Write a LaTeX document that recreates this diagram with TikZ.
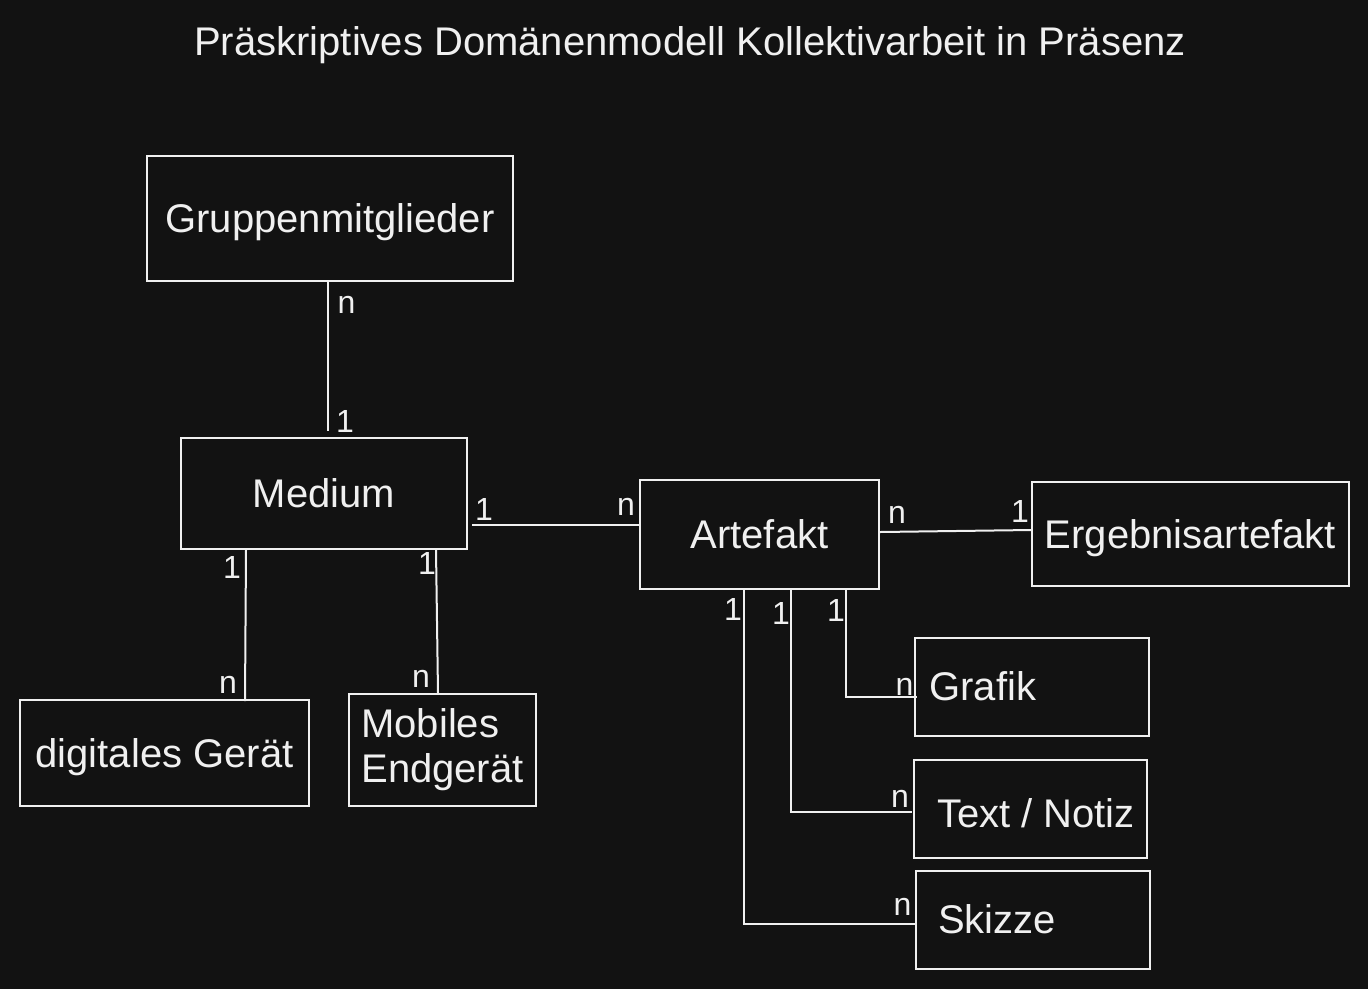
\documentclass[tikz,border=0pt]{standalone}
\usepackage{fontspec}
\setmainfont{Liberation Sans}
\definecolor{bgdark}{HTML}{121212}
\definecolor{fgline}{HTML}{F0F0F0}

\begin{document}
\begin{tikzpicture}[x=1pt,y=-1pt,line width=2pt,
                        box/.style={draw=fgline,inner sep=0pt,text=fgline,font=\fontsize{40}{45}\selectfont},
                        entity/.style={box,text height=28.5pt,text depth=0pt},
                        lbl/.style={text=fgline,inner sep=0pt,font=\fontsize{40}{45}\selectfont},
                        card/.style={text=fgline,inner sep=0pt,anchor=base,font=\fontsize{32}{36}\selectfont},
                        conn/.style={draw=fgline}]
                        \fill [bgdark] (0,0) rectangle (1368,989);
                        \useasboundingbox (0,0) rectangle (1368,989);

                        \node[lbl,anchor=base] (title) at(690,55) {Präskriptives Domänenmodell Kollektivarbeit in Präsenz};

                        \node[entity,minimum width=366pt,minimum height=125pt] (grp) at(330,218.5) {Gruppenmitglieder};
                        \node[entity,minimum width=286pt,minimum height=111pt] (med) at(324,493.5) {Medium};
                        \node[entity,minimum width=239pt,minimum height=109pt] (art) at(759.5,534.5) {Artefakt};
                        \node[entity,minimum width=317pt,minimum height=104pt] (erg) at(1190.5,534) {Ergebnisartefakt};
                        \node[entity,minimum width=289pt,minimum height=106pt] (dig) at(164.5,753) {digitales Gerät};
                        \node[box,align=left,minimum width=187pt,minimum height=112pt] (mob) at(442.5,750) {Mobiles\\Endgerät};
                        \node[box,minimum width=234pt,minimum height=98pt] (gra) at(1032,687) {};
                        \node[box,minimum width=233pt,minimum height=98pt] (txt) at(1030.5,809) {};
                        \node[box,minimum width=234pt,minimum height=98pt] (skz) at(1033,920) {};
                        \node[lbl,anchor=base west] (grat) at(928.5,700) {Grafik};
                        \node[lbl,anchor=base west] (txtt) at(936,827) {Text / Notiz};
                        \node[lbl,anchor=base west] (skzt) at(937,933) {Skizze};

                        \draw[conn] ([shift={(-2,0)}]grp.south) -- ([shift={(4,-6)}]med.north);
                        \draw[conn] ([shift={(4,31.5)}]med.east) -- ([shift={(0,-9.5)}]art.west);
                        \draw[conn] ([shift={(0,-2.5)}]art.east) -- ([shift={(0,-4)}]erg.west);
                        \draw[conn] ([shift={(-78,0)}]med.south) -- ([shift={(80.5,2)}]dig.north);
                        \draw[conn] ([shift={(112,0)}]med.south) -- ([shift={(-4.5,0)}]mob.north);
                        \draw[conn] ([shift={(-15.5,0)}]art.south) |- ([shift={(0,4)}]skz.west);
                        \draw[conn] ([shift={(31.5,0)}]art.south) |- ([shift={(-1,3)}]txt.west);
                        \draw[conn] ([shift={(86.5,0)}]art.south) |- ([shift={(3,10)}]gra.west);

                        \node[card] (c1) at(346.5,313) {n};
                        \node[card] (c2) at(345,432) {1};
                        \node[card] (c3) at(484,520) {1};
                        \node[card] (c4) at(626,515) {n};
                        \node[card] (c5) at(897,523) {n};
                        \node[card] (c6) at(1020,522) {1};
                        \node[card] (c7) at(232,578) {1};
                        \node[card] (c8) at(228,693) {n};
                        \node[card] (c9) at(427,574) {1};
                        \node[card] (c10) at(421,687) {n};
                        \node[card] (c11) at(733,620) {1};
                        \node[card] (c12) at(781,624) {1};
                        \node[card] (c13) at(836,621) {1};
                        \node[card] (c14) at(904.5,695) {n};
                        \node[card] (c15) at(900,807) {n};
                        \node[card] (c16) at(902.5,915) {n};
                    \end{tikzpicture}
\end{document}
